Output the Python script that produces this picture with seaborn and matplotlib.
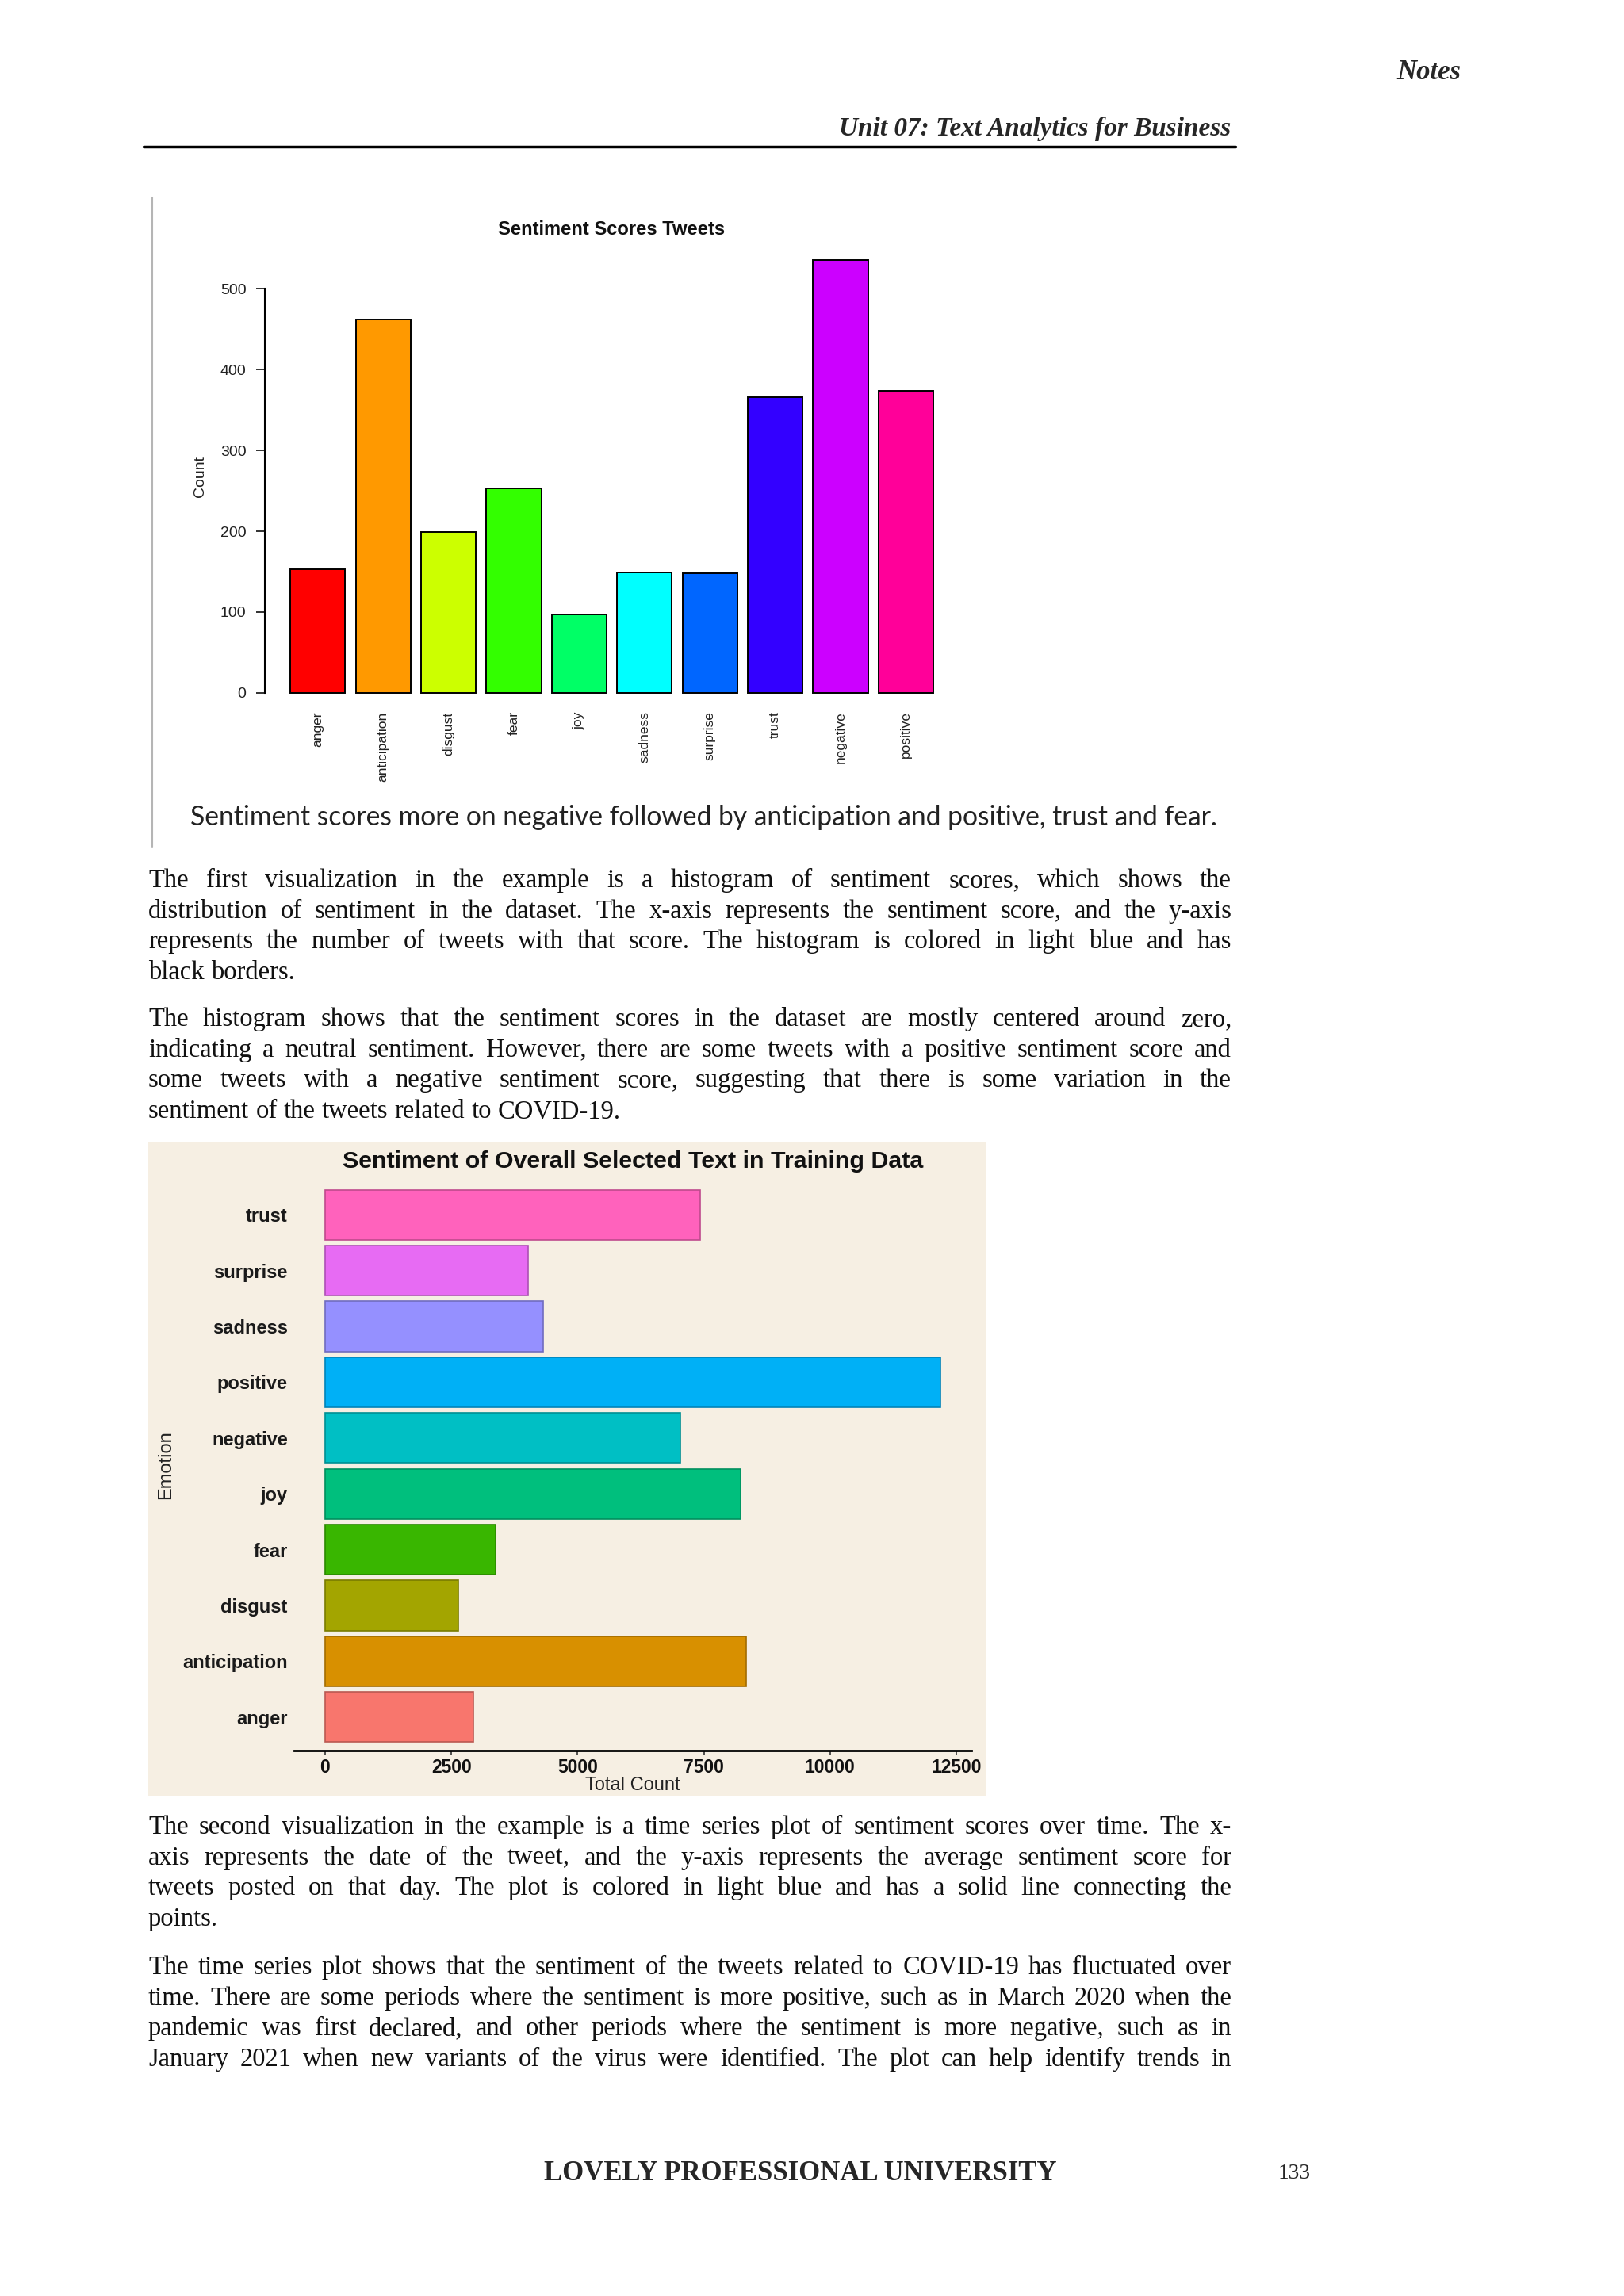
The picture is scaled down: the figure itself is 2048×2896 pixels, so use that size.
import numpy as np
import pandas as pd
import matplotlib
matplotlib.use("Agg")
import matplotlib.pyplot as plt
from matplotlib.lines import Line2D
import seaborn as sns

# Page size in pixels
W, H = 2048, 2896

# Chart 1: Sentiment Scores Tweets
tweet_emotions = ["anger", "anticipation", "disgust", "fear", "joy",
                  "sadness", "surprise", "trust", "negative", "positive"]
tweet_counts = [153, 462, 199, 253, 97, 149, 148, 366, 535, 374]
tweet_colors = ["#FF0000", "#FF9900", "#CCFF00", "#33FF00", "#00FF66",
                "#00FFFF", "#0066FF", "#3300FF", "#CC00FF", "#FF0099"]
tweet_yticks = [0, 100, 200, 300, 400, 500]

# Chart 2: Sentiment of Overall Selected Text in Training Data (top to bottom)
train_emotions = ["trust", "surprise", "sadness", "positive", "negative",
                  "joy", "fear", "disgust", "anticipation", "anger"]
train_counts = [7420, 4020, 4320, 12180, 7040, 8230, 3370, 2640, 8340, 2930]
train_colors = ["#FF62BC", "#E76BF3", "#9590FF", "#00B0F6", "#00BFC4",
                "#00BF7D", "#39B600", "#A3A500", "#D89000", "#F8766D"]
train_xticks = [0, 2500, 5000, 7500, 10000, 12500]

# Page text
caption = "Sentiment scores more on negative followed by anticipation and positive, trust and fear."
para1 = ["The first visualization in the example is a histogram of sentiment scores, which shows the",
         "distribution of sentiment in the dataset. The x-axis represents the sentiment score, and the y-axis",
         "represents the number of tweets with that score. The histogram is colored in light blue and has",
         "black borders."]
para2 = ["The histogram shows that the sentiment scores in the dataset are mostly centered around zero,",
         "indicating a neutral sentiment. However, there are some tweets with a positive sentiment score and",
         "some tweets with a negative sentiment score, suggesting that there is some variation in the",
         "sentiment of the tweets related to COVID-19."]
para3 = ["The second visualization in the example is a time series plot of sentiment scores over time. The x-",
         "axis represents the date of the tweet, and the y-axis represents the average sentiment score for",
         "tweets posted on that day. The plot is colored in light blue and has a solid line connecting the",
         "points."]
para4 = ["The time series plot shows that the sentiment of the tweets related to COVID-19 has fluctuated over",
         "time. There are some periods where the sentiment is more positive, such as in March 2020 when the",
         "pandemic was first declared, and other periods where the sentiment is more negative, such as in",
         "January 2021 when new variants of the virus were identified. The plot can help identify trends in"]

sns.set_style("white")
plt.rcParams["font.family"] = ["Liberation Sans", "DejaVu Sans"]

fig = plt.figure(figsize=(W / 100, H / 100), dpi=100)
fig.patch.set_facecolor("white")
renderer = fig.canvas.get_renderer()


def fx(x):
    return x / W


def fy(y):
    return 1 - y / H


def px_axes(x0, y0, x1, y1, **kw):
    return fig.add_axes([fx(x0), fy(y1), (x1 - x0) / W, (y1 - y0) / H], **kw)


def fit_text(x, y, s, width, size=20, **kw):
    t = fig.text(fx(x), fy(y), s, fontsize=size, **kw)
    w = t.get_window_extent(renderer).width
    t.set_fontsize(size * width / w)
    return t


BODY_FONT = ["Liberation Serif", "DejaVu Serif"]
BODY_SIZE = 23.5
LEFT, RIGHT = 187, 1553


def body_line(y, line, justify=True):
    words = line.split()
    size = BODY_SIZE
    texts = [fig.text(0, fy(y), w, fontsize=size, family=BODY_FONT,
                      va="baseline", color="#111111") for w in words]
    widths = [t.get_window_extent(renderer).width for t in texts]
    space = size * 100 / 72 * 0.25
    total = sum(widths)
    n = len(words)
    if justify and n > 1:
        gap = (RIGHT - LEFT - total) / (n - 1)
        if gap < 0.6 * space:
            new = size * (RIGHT - LEFT) / (total + (n - 1) * 0.6 * space)
            for t in texts:
                t.set_fontsize(new)
            widths = [t.get_window_extent(renderer).width for t in texts]
            gap = (RIGHT - LEFT - sum(widths)) / (n - 1)
    else:
        gap = space
    x = LEFT
    for t, w in zip(texts, widths):
        t.set_x(fx(x))
        x += w + gap


def paragraph(lines, y0, last_full=False, step=38.7):
    for i, line in enumerate(lines):
        body_line(y0 + i * step, line, justify=(i < len(lines) - 1) or last_full)


# ---- Header ----
fit_text(1842, 92, "Notes", 81, family=BODY_FONT, style="italic",
         fontweight="bold", ha="right", va="center")
fit_text(1552, 163, "Unit 07: Text Analytics for Business", 493,
         family=BODY_FONT, style="italic", fontweight="bold",
         ha="right", va="center")
fig.add_artist(Line2D([fx(181), fx(1558)], [fy(185), fy(185)],
                      color="black", lw=2.5))

# ---- Chart 1 ----
fig.add_artist(Line2D([fx(192), fx(192)], [fy(249), fy(1068)],
                      color="#b5b5b5", lw=1.5))

ax1 = px_axes(334, 303, 1200, 878)
ax1.set_facecolor("none")
df1 = pd.DataFrame({"emotion": tweet_emotions, "count": tweet_counts})
sns.barplot(data=df1, x="emotion", y="count", hue="emotion",
            palette=tweet_colors, saturation=1, legend=False, width=0.84,
            edgecolor="black", linewidth=1.4, ax=ax1)
ax1.set_xlim(-0.81, 9.70)
ax1.set_ylim(-4, 560)
for s in ["top", "right", "bottom"]:
    ax1.spines[s].set_visible(False)
ax1.spines["left"].set_bounds(0, 500)
ax1.spines["left"].set_linewidth(1.5)
ax1.spines["left"].set_color("black")
ax1.set_yticks(tweet_yticks)
ax1.set_yticklabels([str(v) for v in tweet_yticks])
ax1.tick_params(axis="y", length=8, width=1.3, pad=9, labelsize=14,
                colors="#222222", left=True)
ax1.tick_params(axis="x", length=0, pad=14, labelsize=12.5,
                labelrotation=90, colors="#222222")
ax1.set_xlabel("")
ax1.set_ylabel("")
fig.text(fx(253), fy(601), "Count", rotation=90, ha="center", va="center",
         fontsize=14, color="#222222")
fit_text(771, 290, "Sentiment Scores Tweets", 287, fontweight="bold",
         ha="center", va="center", color="#111111")

fit_text(887, 1031, caption, 1301, family=["Lato", "DejaVu Sans"],
         ha="center", va="center", color="#222222")

# ---- Body text ----
paragraph(para1, 1119)
paragraph(para2, 1294)

# ---- Chart 2 ----
BEIGE = "#F6EFE3"
bg = px_axes(187, 1440, 1244, 2265, zorder=0)
bg.set_facecolor(BEIGE)
bg.set_xticks([])
bg.set_yticks([])
for s in bg.spines.values():
    s.set_visible(False)

ax2 = px_axes(371, 1490, 1225, 2208, zorder=2)
ax2.set_facecolor("none")
df2 = pd.DataFrame({"emotion": train_emotions, "count": train_counts})
sns.barplot(data=df2, x="count", y="emotion", hue="emotion", orient="h",
            palette=train_colors, saturation=1, legend=False, width=0.9,
            linewidth=1.2, ax=ax2)
for p in ax2.patches:
    r, g, b, a = p.get_facecolor()
    p.set_edgecolor((r * 0.75, g * 0.75, b * 0.75, 1))
ax2.set_xlim(-612, 12798)
ax2.set_ylim(9.6, -0.6)
for s in ["top", "right", "left"]:
    ax2.spines[s].set_visible(False)
ax2.spines["bottom"].set_linewidth(2)
ax2.spines["bottom"].set_color("black")
ax2.set_xticks(train_xticks)
ax2.set_xticklabels([str(v) for v in train_xticks])
ax2.tick_params(axis="x", length=4, width=1.2, pad=3, labelsize=16.5,
                colors="#333333", bottom=True)
for lab in ax2.get_xticklabels():
    lab.set_fontweight("bold")
    lab.set_color("#111111")
ax2.tick_params(axis="y", length=0, pad=6, labelsize=17)
for lab in ax2.get_yticklabels():
    lab.set_fontweight("bold")
    lab.set_color("#1a1a1a")
ax2.set_xlabel("Total Count", fontsize=17, va="center", color="#222222")
ax2.xaxis.set_label_coords(0.5, 1 - (2252 - 1490) / (2208 - 1490))
ax2.set_ylabel("Emotion", fontsize=17, va="center", color="#222222")
ax2.yaxis.set_label_coords((209 - 371) / (1225 - 371), 1 - (1848 - 1490) / (2208 - 1490))
fit_text(798, 1465, "Sentiment of Overall Selected Text in Training Data", 732,
         fontweight="bold", ha="center", va="center", color="#111111")

# ---- Body text after chart 2 ----
paragraph(para3, 2313)
paragraph(para4, 2490, last_full=True)

# ---- Footer ----
fit_text(1009, 2742, "LOVELY PROFESSIONAL UNIVERSITY", 644,
         family=BODY_FONT, fontweight="bold", ha="center", va="center")
fit_text(1632, 2741, "133", 41, family=BODY_FONT, ha="center", va="center")

fig.savefig("out.png", dpi=100, facecolor="white")
